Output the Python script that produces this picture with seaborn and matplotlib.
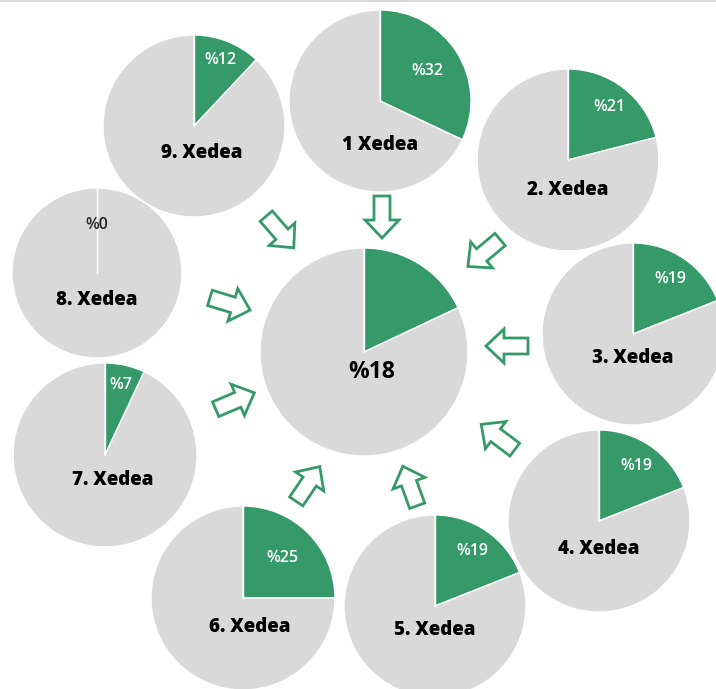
import numpy as np
import matplotlib.pyplot as plt
import matplotlib.patches as mpatches
import seaborn as sns

# data
names = ["1 Xedea", "2. Xedea", "3. Xedea", "4. Xedea", "5. Xedea",
         "6. Xedea", "7. Xedea", "8. Xedea", "9. Xedea"]
shares = [32, 21, 19, 19, 19, 25, 7, 0, 12]
total_share = 18

# layout (pixel coords of the 716x689 picture)
W, H = 716, 689
cx = [380, 568, 633, 599, 435, 243, 105, 97, 194]
cy = [101, 160, 334, 521, 606, 598, 455, 273, 126]
radii = [91, 91, 91, 91, 91, 92, 92, 85, 91]
name_dx = [0, 0, 0, 0, 0, 7, 8, 0, 8]
name_dy = [44, 30, 24, 28, 24, 29, 25, 27, 27]
pct_dist = [0.62, 0.74, 0.73, 0.73, 0.73, 0.61, 0.78, 0.57, 0.78]
center_xy = (364, 352)
center_r = 104
arrow_x = [382, 484, 507, 498, 410, 308, 235, 230, 280]
arrow_y = [217, 253, 346, 437, 486, 484, 401, 304, 232]
arrow_ang = [-90, -140, 180, 143, 110, 56, 23, -17, -49]

green = "#359a68"
grey = "#d9d9d9"

sns.set_theme(style="white")
plt.rcParams['font.family'] = ['Open Sans', 'DejaVu Sans']

fig = plt.figure(figsize=(W / 100, H / 100), dpi=100)
ax = fig.add_axes([0, 0, 1, 1])


def draw_pie(x, y, r, v):
    ax.pie([v, 100 - v], colors=[green, grey], center=(x, H - y), radius=r,
           startangle=90, counterclock=False,
           wedgeprops=dict(edgecolor='white', linewidth=1))
    # slice border at 12 o'clock (also shows for a 0 slice)
    ax.plot([x, x], [H - y, H - y + r], color='white', linewidth=1, zorder=3)


for i, v in enumerate(shares):
    draw_pie(cx[i], cy[i], radii[i], v)
    ax.text(cx[i] + name_dx[i], H - cy[i] - name_dy[i], names[i],
            ha='center', va='center', fontsize=13.5, fontweight='heavy', color='black')
    a = np.deg2rad(v / 100 * 360 / 2)
    d = pct_dist[i] * radii[i]
    ax.text(cx[i] + d * np.sin(a), H - cy[i] + d * np.cos(a), f"%{v}",
            ha='center', va='center', fontsize=11.5, fontweight='semibold',
            color='white' if v > 0 else '#262626', zorder=4)

# central pie
draw_pie(center_xy[0], center_xy[1], center_r, total_share)
ax.text(center_xy[0] + 8, H - center_xy[1] - 20, f"%{total_share}",
        ha='center', va='center', fontsize=16.5, fontweight='bold', color='black')

# hollow arrows pointing to the centre pie
for x, y, ang in zip(arrow_x, arrow_y, arrow_ang):
    ux, uy = np.cos(np.deg2rad(ang)), np.sin(np.deg2rad(ang))
    arr = mpatches.FancyArrow(x - 21 * ux, H - y - 21 * uy, 42 * ux, 42 * uy,
                              width=16, head_width=34, head_length=18,
                              length_includes_head=True, fill=False,
                              edgecolor=green, linewidth=2)
    ax.add_patch(arr)

ax.axhline(H - 0.8, color=grey, linewidth=1.5)

# pie() resets the view, so fix it afterwards
ax.set_xlim(0, W)
ax.set_ylim(0, H)
ax.set_aspect('equal')
ax.axis('off')

fig.savefig("out.png", dpi=100)
